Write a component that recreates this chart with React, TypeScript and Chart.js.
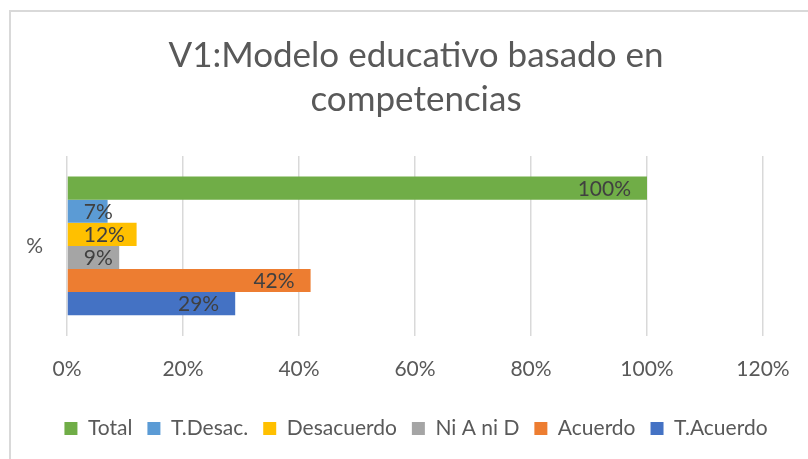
import React, { useEffect, useRef } from "react";
import { Chart, registerables } from "chart.js";

Chart.register(...registerables);

const categories = ["%"];
const seriesNames = ["Total", "T.Desac.", "Desacuerdo", "Ni A ni D", "Acuerdo", "T.Acuerdo"];
const seriesValues = [100, 7, 12, 9, 42, 29];
const seriesColors = ["#70AD47", "#5B9BD5", "#FFC000", "#A5A5A5", "#ED7D31", "#4472C4"];
const xMin = 0;
const xMax = 120;
const xStep = 20;
const titleLines = ["V1:Modelo educativo basado en", "competencias"];

const FONT = "Lato";
const W = 832;
const H = 459;

const dataLabelPlugin = {
  id: "dataLabels",
  afterDatasetsDraw(chart: any) {
    const ctx = chart.ctx;
    ctx.save();
    ctx.font = `21px ${FONT}`;
    ctx.fillStyle = "#404040";
    ctx.textAlign = "left";
    ctx.textBaseline = "middle";
    chart.data.datasets.forEach((ds: any, di: number) => {
      const meta = chart.getDatasetMeta(di);
      meta.data.forEach((el: any, i: number) => {
        const text = `${ds.data[i]}%`;
        const w = ctx.measureText(text).width;
        const right = el.x - 16;
        const left = Math.max(right - w, el.base + 16);
        ctx.fillText(text, left, el.y + 1);
      });
    });
    ctx.restore();
  },
};

export default function App() {
  const ref = useRef<HTMLCanvasElement>(null);
  useEffect(() => {
    if (!ref.current) return;
    const chart = new Chart(ref.current, {
      type: "bar",
      data: {
        labels: categories,
        datasets: seriesNames.map((name, i) => ({
          label: name,
          data: [seriesValues[i]],
          backgroundColor: seriesColors[i],
          borderWidth: 0,
          barPercentage: 1,
          categoryPercentage: 0.771,
        })),
      },
      options: {
        indexAxis: "y",
        animation: false,
        responsive: false,
        maintainAspectRatio: false,
        layout: { padding: { top: 0, bottom: 10, left: 0, right: 0 } },
        scales: {
          x: {
            min: xMin,
            max: xMax,
            grid: { color: "#D9D9D9", lineWidth: 1.5, drawTicks: false },
            border: { display: false },
            ticks: {
              stepSize: xStep,
              padding: 21,
              color: "#595959",
              font: { size: 21, family: FONT },
              callback: (v: any) => `${v}%`,
            },
          },
          y: {
            grid: { display: false, drawTicks: false },
            border: { display: false },
            ticks: { padding: 24, color: "#595959", font: { size: 21, family: FONT } },
            afterFit: (s: any) => {
              s.width = 67;
            },
          },
          y2: {
            type: "linear",
            position: "right",
            grid: { display: false, drawTicks: false },
            border: { display: false },
            ticks: { display: false },
            afterFit: (s: any) => {
              s.width = W - 763;
            },
          },
        },
        plugins: {
          title: {
            display: true,
            text: titleLines,
            color: "#595959",
            font: { size: 35, family: FONT, weight: "normal", lineHeight: 1.243 },
            padding: { top: 34, bottom: 35 },
          },
          legend: {
            position: "bottom",
            labels: {
              color: "#595959",
              font: { size: 21, family: FONT },
              boxWidth: 13,
              boxHeight: 13,
              padding: 15,
            },
          },
          tooltip: { enabled: false },
        },
      },
      plugins: [dataLabelPlugin],
    });
    return () => chart.destroy();
  }, []);

  return (
    <div
      style={{
        position: "fixed",
        left: 0,
        top: 0,
        width: 808,
        height: 459,
        overflow: "hidden",
        background: "#fff",
      }}
    >
      <div
        style={{
          position: "absolute",
          left: 9,
          top: 10,
          width: 830,
          height: 470,
          border: "2px solid #D9D9D9",
          boxSizing: "border-box",
        }}
      />
      <canvas
        ref={ref}
        width={W}
        height={H}
        style={{ position: "absolute", left: 0, top: 0, width: W, height: H }}
      />
    </div>
  );
}
